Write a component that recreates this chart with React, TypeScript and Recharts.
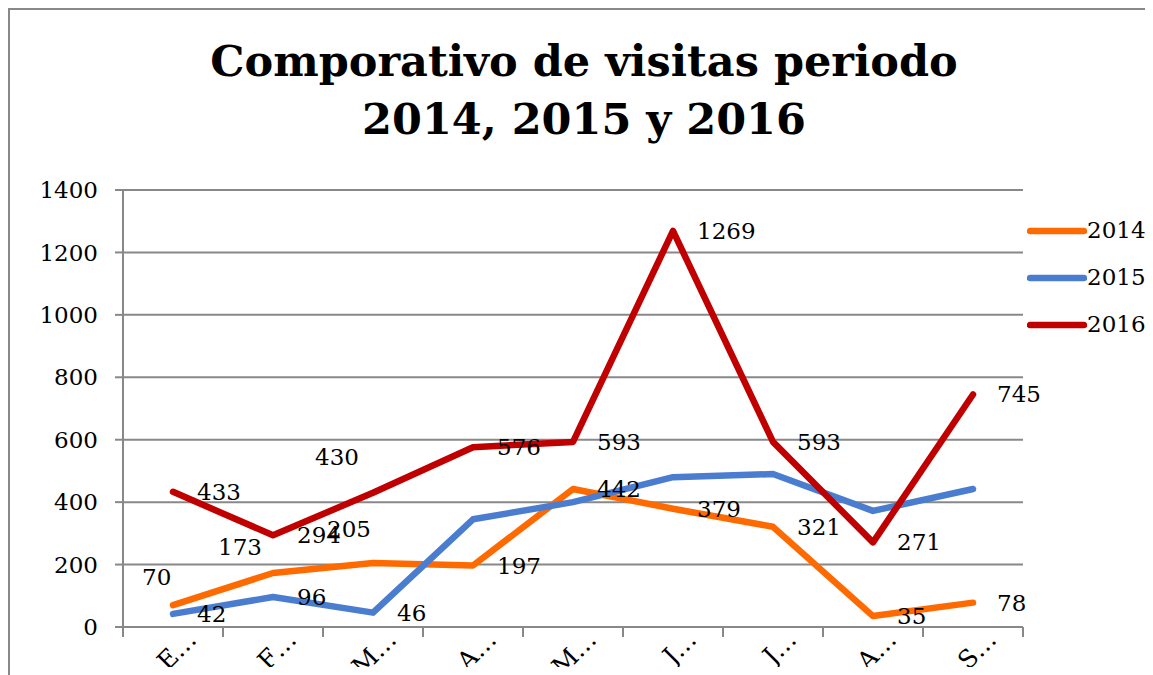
import { LineChart, Line, XAxis, YAxis, CartesianGrid, Legend, LabelList } from "recharts";

const months = ["Enero", "Febrero", "Marzo", "Abril", "Mayo", "Junio", "Julio", "Agosto", "Septiembre"];
const visits2014 = [70, 173, 205, 197, 442, 379, 321, 35, 78];
const visits2015 = [42, 96, 46, 345, 400, 480, 490, 372, 442];
const visits2016 = [433, 294, 430, 576, 593, 1269, 593, 271, 745];
const yTicks = [0, 200, 400, 600, 800, 1000, 1200, 1400];

// which 2015 labels are shown in the original
const shown2015 = [0, 1, 2];

// labels that were dragged away from their default spot (dx, dy from the point)
const labelNudges: Record<string, [number, number]> = {
  "2014-0": [-31, -28],
  "2014-1": [-55, -26],
  "2014-2": [-46, -34],
  "2016-2": [-58, -36],
};

const series = [
  { key: "2014", color: "#FF6A00" },
  { key: "2015", color: "#4A7DD0" },
  { key: "2016", color: "#C00000" },
];

const data = months.map((m, i) => ({
  idx: i,
  mes: m,
  "2014": visits2014[i],
  "2015": visits2015[i],
  "2016": visits2016[i],
}));

const bounds = months.map((_, i) => i - 0.5).concat([months.length - 0.5]);
const centers = months.map((_, i) => i);

const FONT = "'DejaVu Serif', serif";
const GRAY = "#888888";

const makeLabel = (key: string) => (props: any) => {
  const { x, y, value, index } = props;
  if (key === "2015" && !shown2015.includes(index)) return null;
  const [dx, dy] = labelNudges[`${key}-${index}`] ?? [24, 0];
  return (
    <text x={x + dx} y={y + dy} dominantBaseline="central" fontSize={23} fontFamily={FONT} fill="#000">
      {value}
    </text>
  );
};

const MonthTick = (props: any) => {
  const { x, y, payload } = props;
  const name = months[payload.value] ?? "";
  const ax = x + 25;
  const ay = y - 4;
  return (
    <text x={ax} y={ay} textAnchor="end" fontSize={25} fontFamily={FONT} fill="#000" transform={`rotate(-45, ${ax}, ${ay})`}>
      {name.charAt(0) + "…"}
    </text>
  );
};

const EmptyTick = () => <g />;

const LegendBox = () => (
  <div style={{ fontFamily: FONT, fontSize: 23 }}>
    {series.map((s) => (
      <div key={s.key} style={{ display: "flex", alignItems: "center", height: 47 }}>
        <svg width={60} height={10}>
          <line x1={3} y1={5} x2={57} y2={5} stroke={s.color} strokeWidth={6.5} strokeLinecap="round" />
        </svg>
        <span style={{ color: "#000", lineHeight: 1 }}>{s.key}</span>
      </div>
    ))}
  </div>
);

export default function App() {
  return (
    <div style={{ width: 1145, height: 667, overflow: "hidden" }}>
      <div
        style={{
          position: "relative",
          width: 1300,
          height: 800,
          borderLeft: `2px solid ${GRAY}`,
          borderTop: `2px solid ${GRAY}`,
          fontFamily: FONT,
        }}
      >
        <div
          style={{
            position: "absolute",
            left: 0,
            top: 22,
            width: 1148,
            textAlign: "center",
            fontWeight: "bold",
            fontSize: 43,
            lineHeight: "58px",
            color: "#000",
          }}
        >
          Comporativo de visitas periodo
          <br />
          2014, 2015 y 2016
        </div>
        <LineChart width={1143} height={657} data={data} margin={{ top: 180, right: 130, bottom: 0, left: 0 }}>
          <CartesianGrid horizontal vertical={false} stroke={GRAY} strokeWidth={2} />
          <XAxis
            xAxisId={0}
            type="number"
            dataKey="idx"
            domain={[-0.5, 8.5]}
            ticks={bounds}
            interval={0}
            tick={<EmptyTick />}
            tickSize={10}
            height={10}
            axisLine={{ stroke: GRAY, strokeWidth: 2 }}
            tickLine={{ stroke: GRAY, strokeWidth: 2 }}
          />
          <XAxis
            xAxisId="lab"
            type="number"
            dataKey="idx"
            domain={[-0.5, 8.5]}
            ticks={centers}
            interval={0}
            tick={<MonthTick />}
            tickSize={0}
            tickMargin={8}
            height={30}
            axisLine={false}
            tickLine={false}
          />
          <YAxis
            domain={[0, 1400]}
            ticks={yTicks}
            interval={0}
            width={113}
            tickSize={8}
            tickMargin={17}
            axisLine={{ stroke: GRAY, strokeWidth: 2 }}
            tickLine={{ stroke: GRAY, strokeWidth: 2 }}
            tick={{ fontSize: 23, fontFamily: FONT, fill: "#000" }}
          />
          <Legend
            layout="horizontal"
            verticalAlign="middle"
            content={<LegendBox />}
            wrapperStyle={{ position: "absolute", left: 1017, top: 197, width: 140 }}
          />
          {series.map((s) => (
            <Line
              key={s.key}
              type="linear"
              dataKey={s.key}
              stroke={s.color}
              strokeWidth={6.5}
              strokeLinecap="round"
              strokeLinejoin="round"
              dot={false}
              activeDot={false}
              isAnimationActive={false}
            >
              <LabelList dataKey={s.key} content={makeLabel(s.key)} />
            </Line>
          ))}
        </LineChart>
      </div>
    </div>
  );
}
